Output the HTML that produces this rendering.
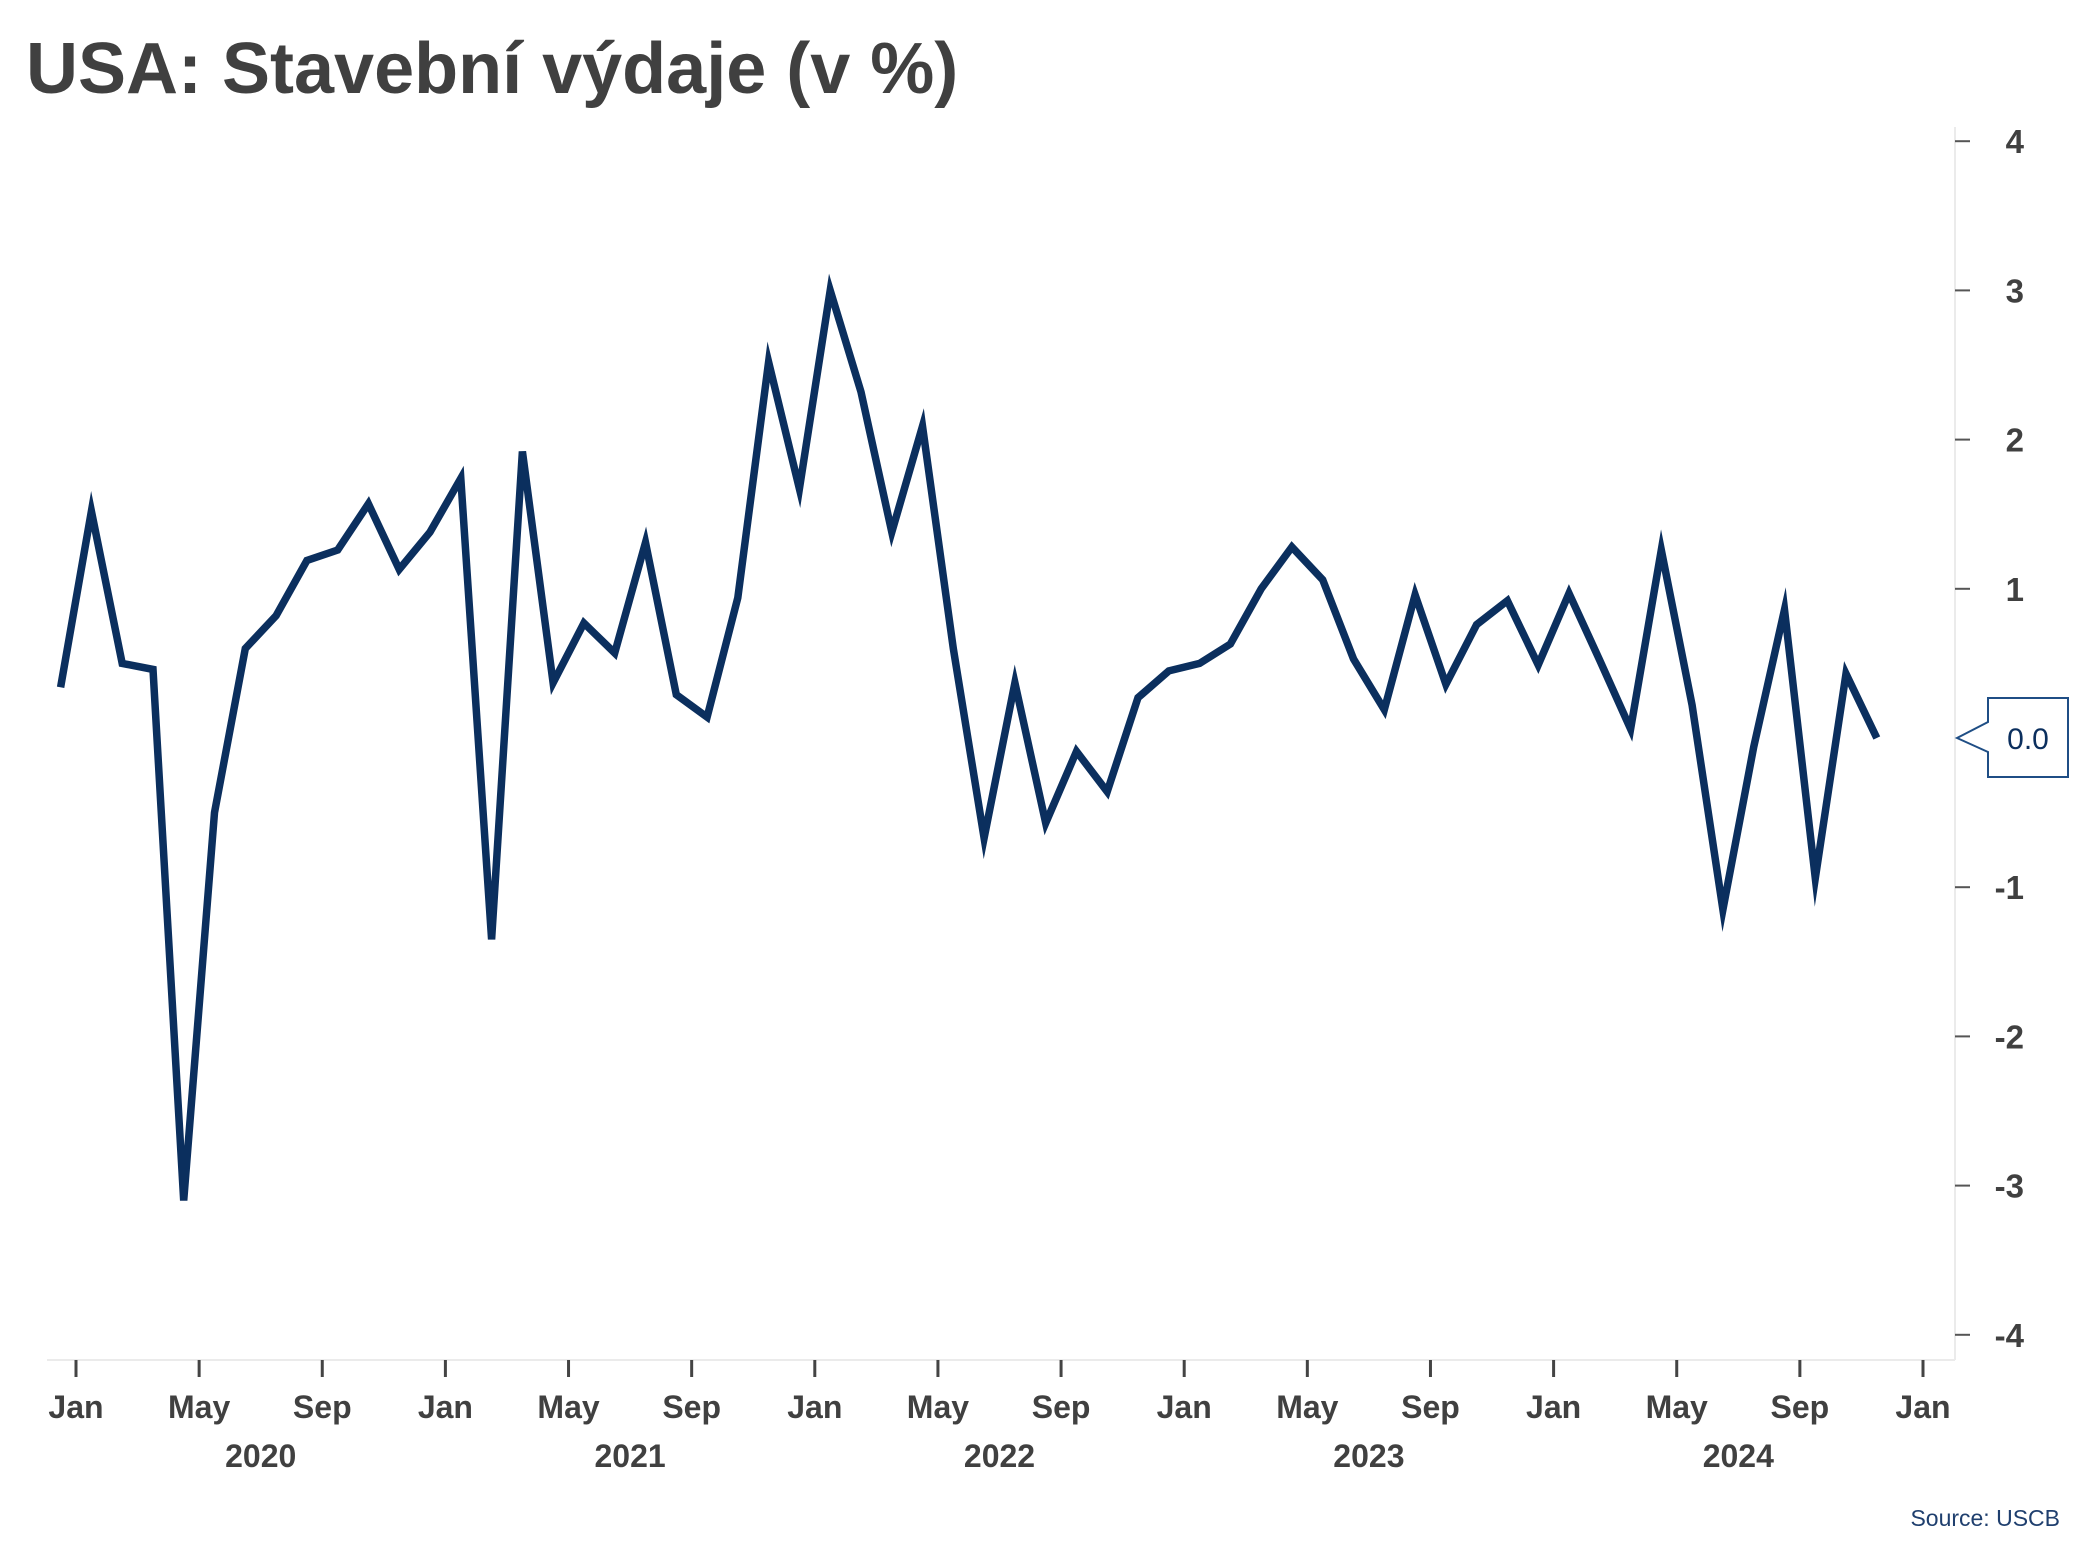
<!DOCTYPE html>
<html><head><meta charset="utf-8"><style>
html,body{margin:0;padding:0;background:#fff;}
svg{display:block;font-family:"Liberation Sans","DejaVu Sans",sans-serif;}
</style></head><body>
<svg id="chart" width="2093" height="1568" viewBox="0 0 2093 1568">
<text x="26" y="93" font-size="72" font-weight="bold" fill="#404040">USA: Stavební výdaje (v %)</text>
<g id="frame">
<line x1="1955" y1="127" x2="1955" y2="1360" stroke="#ebebeb" stroke-width="2"/>
<line x1="47" y1="1360" x2="1955" y2="1360" stroke="#ebebeb" stroke-width="2"/>
</g>
<g id="yaxis"></g>
<g id="xaxis"></g>
<path id="line" fill="none" stroke="#0b2f5e" stroke-width="7.5" stroke-linejoin="miter" stroke-miterlimit="10"/>
<g>
<path d="M1957,738 L1988,722 L1988,698 L2068,698 L2068,777 L1988,777 L1988,752 Z" fill="#fff" stroke="#1f4e85" stroke-width="2"/>
<text x="2028" y="749" font-size="30" fill="#0b2f5e" text-anchor="middle">0.0</text>
</g>
<text x="2060" y="1526" font-size="23" fill="#1f3f6e" text-anchor="end">Source: USCB</text>
</svg>
<script>
const values = [0.34,1.52,0.5,0.46,-3.1,-0.5,0.6,0.82,1.19,1.26,1.57,1.13,
1.38,1.74,-1.35,1.92,0.37,0.77,0.57,1.31,0.29,0.14,0.94,2.52,
1.67,3.0,2.32,1.38,2.09,0.6,-0.67,0.37,-0.57,-0.09,-0.36,0.27,
0.45,0.5,0.63,1.0,1.28,1.06,0.53,0.19,0.96,0.36,0.76,0.92,
0.49,0.97,0.52,0.06,1.26,0.22,-1.15,-0.06,0.86,-0.94,0.43,0.0];
const yTicks = [4,3,2,1,-1,-2,-3,-4];
const monthLabels = ["Jan","May","Sep"];
const years = ["2020","2021","2022","2023","2024"];
const NS="http://www.w3.org/2000/svg";
const x0=76, mw=(1923-76)/60;
function xScale(m){return x0+m*mw;}
function yScale(v){return 738-v*149.2;}
let d="";
values.forEach((v,i)=>{d+=(i?"L":"M")+xScale(i-0.5).toFixed(1)+","+yScale(v).toFixed(1);});
document.getElementById("line").setAttribute("d",d);
const ya=document.getElementById("yaxis");
yTicks.forEach(t=>{
 const l=document.createElementNS(NS,"line");
 l.setAttribute("x1",1955);l.setAttribute("x2",1970);
 l.setAttribute("y1",yScale(t));l.setAttribute("y2",yScale(t));
 l.setAttribute("stroke","#555");l.setAttribute("stroke-width",2);
 
 
 ya.appendChild(l);
 const tx=document.createElementNS(NS,"text");
 tx.setAttribute("x",2024);tx.setAttribute("y",yScale(t)+12);
 tx.setAttribute("text-anchor","end");tx.setAttribute("font-size","33");
 tx.setAttribute("font-weight","bold");tx.setAttribute("fill","#404040");
 tx.textContent=t;
 
 
 ya.appendChild(tx);
});
const xa=document.getElementById("xaxis");
for(let k=0;k<=15;k++){
 const m=k*4, x=xScale(m);
 const l=document.createElementNS(NS,"line");
 l.setAttribute("x1",x);l.setAttribute("x2",x);
 l.setAttribute("y1",1360);l.setAttribute("y2",1377);
 l.setAttribute("stroke","#444");l.setAttribute("stroke-width",3);
 
 
 xa.appendChild(l);
 const tx=document.createElementNS(NS,"text");
 tx.setAttribute("x",x);tx.setAttribute("y",1418);
 tx.setAttribute("text-anchor","middle");tx.setAttribute("font-size","32");
 tx.setAttribute("font-weight","bold");tx.setAttribute("fill","#404040");
 tx.textContent=monthLabels[k%3];
 
 
 xa.appendChild(tx);
}
years.forEach((y,i)=>{
 const tx=document.createElementNS(NS,"text");
 tx.setAttribute("x",xScale(i*12+6));tx.setAttribute("y",1467);
 tx.setAttribute("text-anchor","middle");tx.setAttribute("font-size","32");
 tx.setAttribute("font-weight","bold");tx.setAttribute("fill","#404040");
 tx.textContent=y;
 
 
 xa.appendChild(tx);
});
</script>
</body></html>
